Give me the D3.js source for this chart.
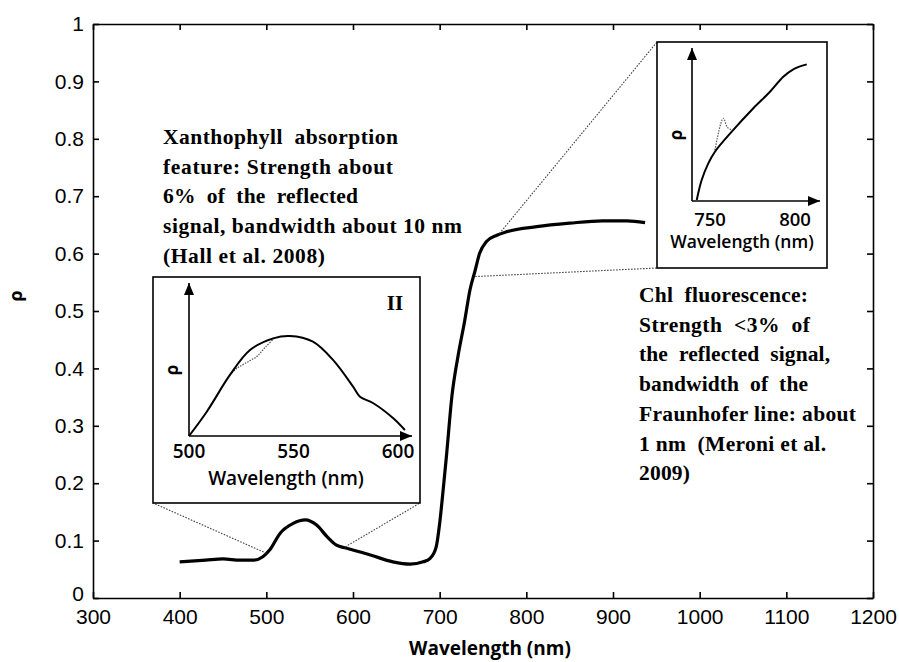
<!DOCTYPE html>
<html>
<head>
<meta charset="utf-8">
<script src="https://cdn.jsdelivr.net/npm/d3@7"></script>
<style>
  body { margin: 0; background: #fff; }
  svg { display: block; }
</style>
</head>
<body>
<div id="chart"></div>
<script>
// reflectance spectrum with two zoomed insets

// main spectrum
var wavelength = [400, 430, 450, 470, 485, 496, 504, 516, 531, 545, 558, 570, 581, 592, 620, 646, 666, 681, 689, 696, 700, 704, 708, 714, 721, 729, 735, 741, 746, 754, 766, 777, 812, 850, 888, 916, 937];
var reflectance = [0.063, 0.066, 0.068, 0.066, 0.066, 0.072, 0.084, 0.113, 0.130, 0.136, 0.127, 0.107, 0.092, 0.087, 0.075, 0.063, 0.059, 0.063, 0.069, 0.089, 0.130, 0.188, 0.25, 0.35, 0.42, 0.484, 0.537, 0.571, 0.600, 0.621, 0.632, 0.638, 0.647, 0.653, 0.657, 0.657, 0.654];

var xTicks = [300, 400, 500, 600, 700, 800, 900, 1000, 1100, 1200];
var yTicks = [0, 0.1, 0.2, 0.3, 0.4, 0.5, 0.6, 0.7, 0.8, 0.9, 1];

// inset II (visible, xanthophyll), relative reflectance
var visWl = [500, 508.5, 519.6, 529.2, 540.3, 548.3, 559.3, 568.9, 578.5, 581.8, 588, 597.6, 603.3];
var visRho = [0, 0.162, 0.407, 0.573, 0.651, 0.667, 0.629, 0.507, 0.329, 0.262, 0.22, 0.12, 0.04];
var visDipWl = [519.6, 522.8, 527.6, 532.4, 536.4, 541];
var visDipRho = [0.407, 0.45, 0.49, 0.53, 0.59, 0.655];
var visTicks = [500, 550, 600];

// red edge inset (chl fluorescence), relative reflectance
var redWl = [742.2, 745.1, 749, 752.9, 762.8, 775.5, 785.3, 793.1, 799, 806.9];
var redRho = [0.007, 0.137, 0.246, 0.322, 0.453, 0.606, 0.714, 0.812, 0.861, 0.893];
var redPeakWl = [752.9, 757.8, 760.2, 762.8];
var redPeakRho = [0.333, 0.541, 0.482, 0.464];
var redTicks = [750, 800];

// points on the main curve where the zoom lines start
var visAnchorWl = [500, 591];
var visAnchorRho = [0.078, 0.089];
var redAnchorWl = [769, 741];
var redAnchorRho = [0.635, 0.56];

var xanthoLines = ["Xanthophyll  absorption", "feature: Strength about", "6%  of  the  reflected", "signal, bandwidth about 10 nm", "(Hall et al. 2008)"];
var xanthoWidths = [235, 230, 195, 299, 162];
var chlLines = ["Chl  fluorescence:", "Strength  <3%  of", "the  reflected  signal,", "bandwidth  of  the", "Fraunhofer line: about", "1 nm  (Meroni et al.", "2009)"];
var chlWidths = [169, 171, 191, 169, 217, 187, 51];

var W = 899, H = 662;
var svg = d3.select("#chart").append("svg")
  .attr("width", W)
  .attr("height", H);

var defs = svg.append("defs");
defs.append("marker")
  .attr("id", "arrow")
  .attr("viewBox", "0 0 12 10")
  .attr("refX", 12).attr("refY", 5)
  .attr("markerUnits", "userSpaceOnUse")
  .attr("markerWidth", 12).attr("markerHeight", 10)
  .attr("orient", "auto")
  .append("path")
  .attr("d", "M0,0 L12,5 L0,10 Z")
  .attr("fill", "#000");

var x = d3.scaleLinear().domain([300, 1200]).range([93, 873]);
var y = d3.scaleLinear().domain([0, 1]).range([598, 24]);

var tickFont = "'Liberation Sans', Arial, sans-serif";

// axes, ticks pointing inwards
var gx = svg.append("g").attr("transform", "translate(0," + y(0) + ")")
  .call(d3.axisBottom(x).tickValues(xTicks).tickSizeInner(-6).tickSizeOuter(0).tickPadding(11).tickFormat(d3.format("d")));
var gy = svg.append("g").attr("transform", "translate(" + x(300) + ",0)")
  .call(d3.axisLeft(y).tickValues(yTicks).tickSizeInner(-6).tickSizeOuter(0).tickPadding(9).tickFormat(d3.format("~g")));
var gt = svg.append("g").attr("transform", "translate(0," + y(1) + ")")
  .call(d3.axisTop(x).tickValues(xTicks).tickSizeInner(-6).tickSizeOuter(0).tickFormat(""));
var gr = svg.append("g").attr("transform", "translate(" + x(1200) + ",0)")
  .call(d3.axisRight(y).tickValues(yTicks).tickSizeInner(-6).tickSizeOuter(0).tickFormat(""));

[gx, gy, gt, gr].forEach(function(g){
  g.selectAll(".domain").attr("stroke", "#000").attr("stroke-width", 1.6);
  g.selectAll(".tick line").attr("stroke", "#000").attr("stroke-width", 1.6);
  g.selectAll(".tick text").attr("font-family", tickFont).attr("font-size", 21).attr("fill", "#000");
});
// the "0" label sits a little above the corner
gy.selectAll(".tick text").filter(function(d){ return d === 0; }).attr("dy", "0.1em");

svg.append("text")
  .attr("x", 490).attr("y", 655)
  .attr("text-anchor", "middle")
  .attr("font-family", "'Open Sans', sans-serif")
  .attr("font-weight", 700)
  .attr("font-size", 19)
  .text("Wavelength (nm)");

svg.append("text")
  .attr("transform", "translate(22,296) rotate(-90)")
  .attr("text-anchor", "middle")
  .attr("font-family", "'Open Sans', sans-serif")
  .attr("font-weight", 700)
  .attr("font-size", 18)
  .text("ρ");

// main curve
var mainData = wavelength.map(function(w, i){ return {w: w, r: reflectance[i]}; });
svg.append("path")
  .datum(mainData)
  .attr("fill", "none")
  .attr("stroke", "#000")
  .attr("stroke-width", 3.2)
  .attr("stroke-linejoin", "round")
  .attr("d", d3.line().x(function(d){ return x(d.w); }).y(function(d){ return y(d.r); }).curve(d3.curveMonotoneX));

// inset boxes
var visBox = {x0: 153, y0: 277, x1: 420, y1: 503};
var redBox = {x0: 657, y0: 42, x1: 827, y1: 268};

// zoom lines from the curve to the boxes
function zoomLine(wl, rho, bx, by){
  svg.append("line")
    .attr("x1", x(wl)).attr("y1", y(rho))
    .attr("x2", bx).attr("y2", by)
    .attr("stroke", "#444")
    .attr("stroke-width", 1.1)
    .attr("stroke-dasharray", "1.6,1.4");
}
zoomLine(visAnchorWl[0], visAnchorRho[0], visBox.x0, visBox.y1);
zoomLine(visAnchorWl[1], visAnchorRho[1], visBox.x1, visBox.y1);
zoomLine(redAnchorWl[0], redAnchorRho[0], redBox.x0, redBox.y0);
zoomLine(redAnchorWl[1], redAnchorRho[1], redBox.x0, redBox.y1);

function drawInset(box, xs, ys, axX0, axY0, axX1, axY1, wl, rho, dWl, dRho, ticks, tickY, tickSize, labelX, labelY, labelSize, rhoX, rhoY){
  var g = svg.append("g");
  g.append("rect")
    .attr("x", box.x0).attr("y", box.y0)
    .attr("width", box.x1 - box.x0).attr("height", box.y1 - box.y0)
    .attr("fill", "#fff").attr("stroke", "#000").attr("stroke-width", 1.6);
  // axes with arrows
  g.append("line").attr("x1", axX0).attr("y1", axY0).attr("x2", axX0).attr("y2", axY1)
    .attr("stroke", "#000").attr("stroke-width", 1.6).attr("marker-end", "url(#arrow)");
  g.append("line").attr("x1", axX0).attr("y1", axY0).attr("x2", axX1).attr("y2", axY0)
    .attr("stroke", "#000").attr("stroke-width", 1.6).attr("marker-end", "url(#arrow)");

  var line = d3.line().x(function(d){ return xs(d[0]); }).y(function(d){ return ys(d[1]); }).curve(d3.curveCatmullRom);
  g.append("path")
    .datum(dWl.map(function(w, i){ return [w, dRho[i]]; }))
    .attr("fill", "none").attr("stroke", "#555").attr("stroke-width", 1.2)
    .attr("stroke-dasharray", "1.5,1.2")
    .attr("d", line);
  g.append("path")
    .datum(wl.map(function(w, i){ return [w, rho[i]]; }))
    .attr("fill", "none").attr("stroke", "#000").attr("stroke-width", 2)
    .attr("d", line);

  g.selectAll(".itick").data(ticks).enter().append("text")
    .attr("x", function(d){ return xs(d); })
    .attr("y", tickY)
    .attr("text-anchor", "middle")
    .attr("font-family", "'Open Sans', sans-serif")
    .attr("font-weight", 600)
    .attr("font-size", tickSize)
    .text(function(d){ return d; });
  g.append("text")
    .attr("x", labelX).attr("y", labelY)
    .attr("text-anchor", "middle")
    .attr("font-family", "'Open Sans', sans-serif")
    .attr("font-weight", 600)
    .attr("font-size", labelSize)
    .text("Wavelength (nm)");
  g.append("text")
    .attr("transform", "translate(" + rhoX + "," + rhoY + ") rotate(-90)")
    .attr("text-anchor", "middle")
    .attr("font-family", "'Open Sans', sans-serif")
    .attr("font-weight", 700)
    .attr("font-size", 17)
    .text("ρ");
  return g;
}

var xVis = d3.scaleLinear().domain([500, 600]).range([189, 398]);
var yVis = d3.scaleLinear().domain([0, 1]).range([436, 286]);
var gVis = drawInset(visBox, xVis, yVis, 189, 436, 412, 283, visWl, visRho, visDipWl, visDipRho, visTicks, 458, 19, 286, 485, 19, 178, 370);
gVis.append("text")
  .attr("x", 395).attr("y", 310)
  .attr("text-anchor", "middle")
  .attr("font-family", "'Liberation Serif', 'Times New Roman', serif")
  .attr("font-weight", 700)
  .attr("font-size", 21)
  .text("II");

var xRed = d3.scaleLinear().domain([750, 800]).range([710, 795]);
var yRed = d3.scaleLinear().domain([0, 1]).range([201, 48]);
drawInset(redBox, xRed, yRed, 692, 201, 820, 48, redWl, redRho, redPeakWl, redPeakRho, redTicks, 226, 18.5, 742, 248, 17.5, 682, 135);

// annotations
function annotate(lines, widths, x0, y0, dy){
  var t = svg.append("g");
  t.selectAll("text").data(lines).enter().append("text")
    .attr("x", x0)
    .attr("y", function(d, i){ return y0 + i * dy; })
    .attr("font-family", "'Liberation Serif', 'Times New Roman', serif")
    .attr("font-weight", 700)
    .attr("font-size", 21.5)
    .attr("textLength", function(d, i){ return widths[i]; })
    .attr("lengthAdjust", "spacing")
    .attr("xml:space", "preserve")
    .style("white-space", "pre")
    .text(function(d){ return d; });
}
annotate(xanthoLines, xanthoWidths, 163, 144, 29.7);
annotate(chlLines, chlWidths, 639, 302, 29.7);
</script>
</body>
</html>
